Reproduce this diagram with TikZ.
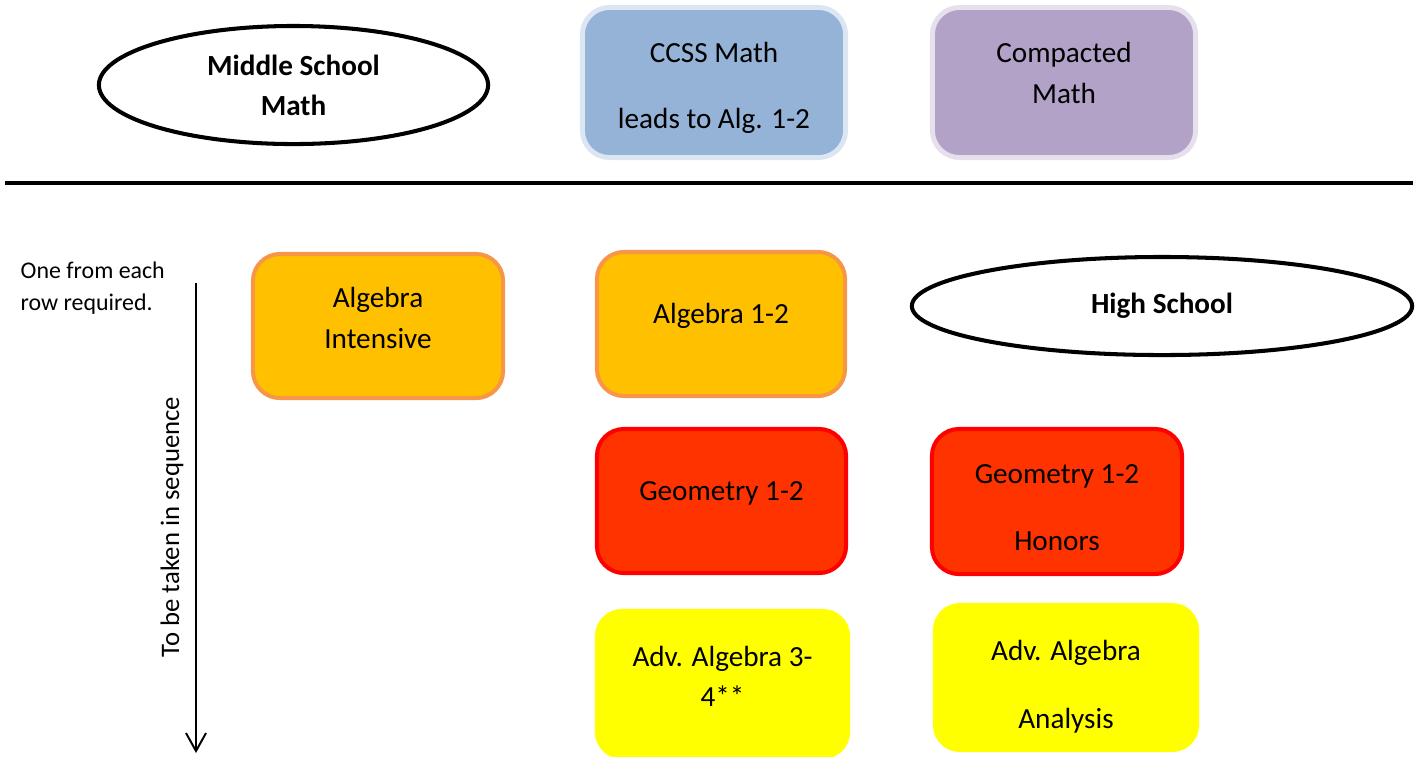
\documentclass[tikz,border=0pt]{standalone}
\usepackage{fontspec}
\setmainfont{Carlito}
\usetikzlibrary{arrows.meta,shapes.geometric}
\definecolor{ccss}{HTML}{95B3D7}
\definecolor{ccssrim}{HTML}{DCE6F2}
\definecolor{compact}{HTML}{B2A2C7}
\definecolor{compactrim}{HTML}{E6E0EC}
\definecolor{alg}{HTML}{FFC000}
\definecolor{algrim}{HTML}{F79646}
\definecolor{geo}{HTML}{FF3300}
\definecolor{georim}{HTML}{FF0000}
\definecolor{adv}{HTML}{FFFF00}
\newcommand\padtop[1]{\rule{0pt}{#1}}
\newcommand\padbot[1]{\rule[-#1]{0pt}{#1}}

\begin{document}
\begin{tikzpicture}[x=0.01cm,y=-0.01cm,
    font=\fontsize{8.3}{11.7}\selectfont,
    >={Straight Barb[length=0.18cm,width=0.2cm]},
    course/.style={rounded corners=0.27cm,align=center,inner sep=0pt,
      line width=1.15pt,minimum width=2.5cm,minimum height=1.44cm},
    topbox/.style={course,line width=1.4pt,minimum width=2.63cm,minimum height=1.5cm},
    oval/.style={ellipse,draw,line width=1.15pt,inner sep=0pt,align=center,
      font=\fontsize{8.3}{11.4}\selectfont\bfseries}]
  \useasboundingbox (0,0) rectangle (1421,756);

  \node[oval,minimum width=3.89cm,minimum height=1.18cm] (middle) at (293.5,85)
    {Middle School\\Math};
  \node[topbox,fill=ccss,draw=ccssrim] (ccss) at (714,82.5)
    {\padtop{8.6pt}CCSS Math\\[7.1pt]leads to Alg. 1-2};
  \node[topbox,fill=compact,draw=compactrim] (compacted) at (1064,82.5)
    {Compacted\\Math\padbot{5.7pt}};
  \draw[line width=1.4pt] (5,183) -- (1413,183);

  \node[anchor=west,align=left,inner sep=0pt,font=\fontsize{6.8}{8.9}\selectfont]
    (rowrule) at (20,288) {One from each\\row required.};
  \coordinate (seqtop) at (196,283);
  \coordinate (seqend) at (196,753);
  \draw[->,line width=0.55pt] (seqtop) -- (seqend);
  \node[rotate=90,font=\fontsize{7.6}{9}\selectfont] (sequence) at (172,527)
    {To be taken in sequence};

  \node[course,fill=alg,draw=algrim] (algint) at (378,326)
    {Algebra\\Intensive\padbot{4.6pt}};
  \node[course,fill=alg,draw=algrim,minimum width=2.48cm] (alg) at (721,324)
    {Algebra 1-2\padbot{6pt}};
  \node[oval,minimum width=5.0cm,minimum height=0.98cm] (high) at (1162,306)
    {High School};

  \node[course,fill=geo,draw=georim,minimum width=2.49cm] (geo) at (721.5,501)
    {Geometry 1-2\padbot{5.4pt}};
  \node[course,fill=geo,draw=georim,minimum height=1.45cm] (geohon) at (1057,501.5)
    {\padtop{8.85pt}Geometry 1-2\\[7.4pt]Honors};

  \node[course,fill=adv,minimum width=2.55cm,minimum height=1.5cm] (adv) at (722.5,684)
    {Adv. Algebra 3-\\[-0.5pt]4**\padbot{4.3pt}};
  \node[course,fill=adv,minimum width=2.66cm,minimum height=1.49cm] (advan) at (1066,677.5)
    {\padtop{11pt}Adv. Algebra\\[7.4pt]Analysis};
\end{tikzpicture}
\end{document}
